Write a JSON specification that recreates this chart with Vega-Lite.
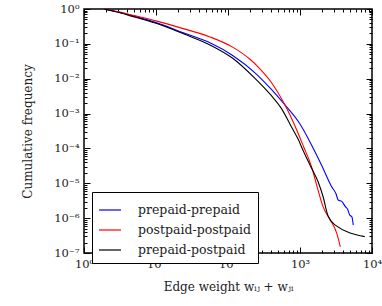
{
  "$schema": "https://vega.github.io/schema/vega-lite/v6.json",
  "width": 288,
  "height": 244,
  "autosize": {"type": "none"},
  "padding": {"left": 84, "top": 9, "right": 10, "bottom": 53},
  "background": "white",
  "config": {
    "view": {"stroke": "black", "strokeWidth": 1.5},
    "font": "DejaVu Serif",
    "axis": {"grid": false, "domain": false, "labelFont": "DejaVu Serif", "labelFontSize": 11.5, "labelColor": "#222", "titleFont": "DejaVu Serif", "titleFontSize": 12, "titleFontWeight": "normal", "titleColor": "#222", "tickColor": "black", "tickWidth": 1, "labelFlush": false, "labelOverlap": false},
    "legend": {"labelFont": "DejaVu Serif", "labelFontSize": 12.5, "labelColor": "#222"}
  },
  "data": {"values": [
    {"s": "prepaid-prepaid", "x": 1.9, "y": 1},
    {"s": "prepaid-prepaid", "x": 3.162, "y": 0.794},
    {"s": "prepaid-prepaid", "x": 5.012, "y": 0.617},
    {"s": "prepaid-prepaid", "x": 10, "y": 0.407},
    {"s": "prepaid-prepaid", "x": 24.55, "y": 0.204},
    {"s": "prepaid-prepaid", "x": 56.23, "y": 0.107},
    {"s": "prepaid-prepaid", "x": 117.5, "y": 0.0457},
    {"s": "prepaid-prepaid", "x": 237.1, "y": 0.01479},
    {"s": "prepaid-prepaid", "x": 398.1, "y": 0.00501},
    {"s": "prepaid-prepaid", "x": 616.6, "y": 0.00178},
    {"s": "prepaid-prepaid", "x": 1000, "y": 0.000501},
    {"s": "prepaid-prepaid", "x": 1445, "y": 0.000126},
    {"s": "prepaid-prepaid", "x": 1995, "y": 0.0000331},
    {"s": "prepaid-prepaid", "x": 2754, "y": 0.00000794},
    {"s": "prepaid-prepaid", "x": 3162, "y": 0.00000501},
    {"s": "prepaid-prepaid", "x": 3388, "y": 0.00000331},
    {"s": "prepaid-prepaid", "x": 3802, "y": 0.00000302},
    {"s": "prepaid-prepaid", "x": 4266, "y": 0.00000214},
    {"s": "prepaid-prepaid", "x": 4571, "y": 0.00000182},
    {"s": "prepaid-prepaid", "x": 4898, "y": 0.00000123},
    {"s": "prepaid-prepaid", "x": 5248, "y": 0.000001096},
    {"s": "prepaid-prepaid", "x": 5495, "y": 0.000000631},
    {"s": "postpaid-postpaid", "x": 1.9, "y": 1},
    {"s": "postpaid-postpaid", "x": 3.162, "y": 0.813},
    {"s": "postpaid-postpaid", "x": 5.012, "y": 0.646},
    {"s": "postpaid-postpaid", "x": 10, "y": 0.457},
    {"s": "postpaid-postpaid", "x": 24.55, "y": 0.269},
    {"s": "postpaid-postpaid", "x": 56.23, "y": 0.158},
    {"s": "postpaid-postpaid", "x": 117.5, "y": 0.0794},
    {"s": "postpaid-postpaid", "x": 204.2, "y": 0.0355},
    {"s": "postpaid-postpaid", "x": 275.4, "y": 0.0195},
    {"s": "postpaid-postpaid", "x": 398.1, "y": 0.00794},
    {"s": "postpaid-postpaid", "x": 616.6, "y": 0.00178},
    {"s": "postpaid-postpaid", "x": 891.3, "y": 0.000355},
    {"s": "postpaid-postpaid", "x": 1122, "y": 0.0001122},
    {"s": "postpaid-postpaid", "x": 1445, "y": 0.0000302},
    {"s": "postpaid-postpaid", "x": 1778, "y": 0.00000646},
    {"s": "postpaid-postpaid", "x": 2089, "y": 0.00000214},
    {"s": "postpaid-postpaid", "x": 2630, "y": 0.000000891},
    {"s": "postpaid-postpaid", "x": 3236, "y": 0.000000372},
    {"s": "postpaid-postpaid", "x": 3631, "y": 0.000000151},
    {"s": "prepaid-postpaid", "x": 1.9, "y": 1},
    {"s": "prepaid-postpaid", "x": 3.162, "y": 0.776},
    {"s": "prepaid-postpaid", "x": 5.012, "y": 0.589},
    {"s": "prepaid-postpaid", "x": 10, "y": 0.389},
    {"s": "prepaid-postpaid", "x": 24.55, "y": 0.191},
    {"s": "prepaid-postpaid", "x": 56.23, "y": 0.0933},
    {"s": "prepaid-postpaid", "x": 117.5, "y": 0.038},
    {"s": "prepaid-postpaid", "x": 237.1, "y": 0.01023},
    {"s": "prepaid-postpaid", "x": 398.1, "y": 0.00331},
    {"s": "prepaid-postpaid", "x": 562.3, "y": 0.00132},
    {"s": "prepaid-postpaid", "x": 758.6, "y": 0.000417},
    {"s": "prepaid-postpaid", "x": 955, "y": 0.0001738},
    {"s": "prepaid-postpaid", "x": 1047, "y": 0.0001122},
    {"s": "prepaid-postpaid", "x": 1380, "y": 0.0000331},
    {"s": "prepaid-postpaid", "x": 1778, "y": 0.00001122},
    {"s": "prepaid-postpaid", "x": 2089, "y": 0.00000417},
    {"s": "prepaid-postpaid", "x": 2455, "y": 0.000001148},
    {"s": "prepaid-postpaid", "x": 3090, "y": 0.000000631},
    {"s": "prepaid-postpaid", "x": 7943, "y": 0.000000295}
  ]},
  "resolve": {"axis": {"x": "independent", "y": "independent"}},
  "layer": [
    {
      "mark": {"type": "line", "strokeWidth": 1.1, "interpolate": "monotone", "clip": true},
      "encoding": {
        "x": {"field": "x", "type": "quantitative",
          "scale": {"type": "log", "domain": [1, 10000], "nice": false},
          "axis": {"orient": "bottom", "title": "Edge weight wᵢⱼ + wⱼᵢ", "titleY": 33, "titleBaseline": "middle",
            "values": [1,2,3,4,5,6,7,8,9,10,20,30,40,50,60,70,80,90,100,200,300,400,500,600,700,800,900,1000,2000,3000,4000,5000,6000,7000,8000,9000,10000],
            "tickSize": {"condition": {"test": "indexof([1,10,100,1000,10000], datum.value) >= 0", "value": -6}, "value": -3},
            "labelPadding": 11,
            "labelExpr": "datum.value==1?'10⁰':datum.value==10?'10¹':datum.value==100?'10²':datum.value==1000?'10³':datum.value==10000?'10⁴':''"}},
        "y": {"field": "y", "type": "quantitative",
          "scale": {"type": "log", "domain": [0.0000001, 1], "nice": false},
          "axis": {"orient": "left", "title": "Cumulative frequency", "titleX": -57, "titleY": 122, "titleAlign": "center", "titleBaseline": "middle", "titleAngle": -90,
            "values": [0.0000001,0.0000002,0.0000003,0.0000004,0.0000005,0.0000006,0.0000007,0.0000008,0.0000009,0.000001,0.000002,0.000003,0.000004,0.000005,0.000006,0.000007,0.000008,0.000009,0.00001,0.00002,0.00003,0.00004,0.00005,0.00006,0.00007,0.00008,0.00009,0.0001,0.0002,0.0003,0.0004,0.0005,0.0006,0.0007,0.0008,0.0009,0.001,0.002,0.003,0.004,0.005,0.006,0.007,0.008,0.009,0.01,0.02,0.03,0.04,0.05,0.06,0.07,0.08,0.09,0.1,0.2,0.3,0.4,0.5,0.6,0.7,0.8,0.9,1],
            "tickSize": {"condition": {"test": "indexof([0.0000001,0.000001,0.00001,0.0001,0.001,0.01,0.1,1], datum.value) >= 0", "value": -6}, "value": -3},
            "labelPadding": 11,
            "labelExpr": "datum.value==1?'10⁰':datum.value==0.1?'10⁻¹':datum.value==0.01?'10⁻²':datum.value==0.001?'10⁻³':datum.value==0.0001?'10⁻⁴':datum.value==0.00001?'10⁻⁵':datum.value==0.000001?'10⁻⁶':datum.value==0.0000001?'10⁻⁷':''"}},
        "color": {"field": "s", "type": "nominal",
          "scale": {"domain": ["prepaid-prepaid", "postpaid-postpaid", "prepaid-postpaid"], "range": ["#0000ff", "#ff0000", "#000000"]},
          "legend": {"title": null, "orient": "none", "legendX": 8, "legendY": 183, "strokeColor": "black", "fillColor": "white", "padding": 6, "symbolType": "stroke", "symbolSize": 484, "symbolStrokeWidth": 1.2, "labelOffset": 16, "rowPadding": 1, "cornerRadius": 0}}
      }
    },
    {
      "mark": {"type": "line", "strokeOpacity": 0},
      "encoding": {
        "x": {"field": "x", "type": "quantitative",
          "axis": {"orient": "top", "title": null, "labels": false,
            "values": [1,2,3,4,5,6,7,8,9,10,20,30,40,50,60,70,80,90,100,200,300,400,500,600,700,800,900,1000,2000,3000,4000,5000,6000,7000,8000,9000,10000],
            "tickSize": {"condition": {"test": "indexof([1,10,100,1000,10000], datum.value) >= 0", "value": -6}, "value": -3}}},
        "y": {"field": "y", "type": "quantitative",
          "axis": {"orient": "right", "title": null, "labels": false,
            "values": [0.0000001,0.0000002,0.0000003,0.0000004,0.0000005,0.0000006,0.0000007,0.0000008,0.0000009,0.000001,0.000002,0.000003,0.000004,0.000005,0.000006,0.000007,0.000008,0.000009,0.00001,0.00002,0.00003,0.00004,0.00005,0.00006,0.00007,0.00008,0.00009,0.0001,0.0002,0.0003,0.0004,0.0005,0.0006,0.0007,0.0008,0.0009,0.001,0.002,0.003,0.004,0.005,0.006,0.007,0.008,0.009,0.01,0.02,0.03,0.04,0.05,0.06,0.07,0.08,0.09,0.1,0.2,0.3,0.4,0.5,0.6,0.7,0.8,0.9,1],
            "tickSize": {"condition": {"test": "indexof([0.0000001,0.000001,0.00001,0.0001,0.001,0.01,0.1,1], datum.value) >= 0", "value": -6}, "value": -3}}}
      }
    }
  ]
}
